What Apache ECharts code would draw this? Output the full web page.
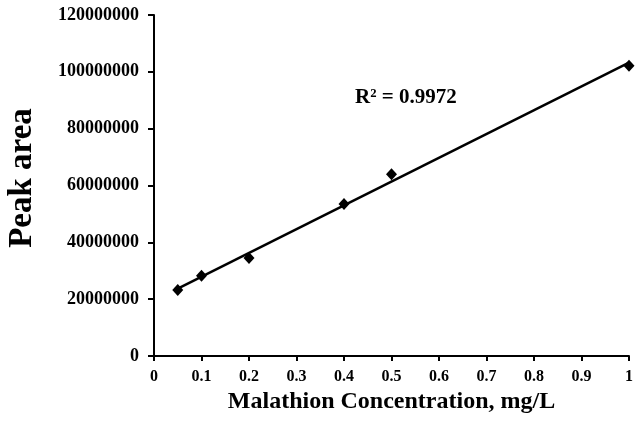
<!DOCTYPE html>
<html><head><meta charset="utf-8">
<script src="https://cdn.jsdelivr.net/npm/echarts@6/dist/echarts.min.js"></script>
<style>html,body{margin:0;padding:0;background:#fff}#c{width:637px;height:427px}</style>
</head><body><div id="c"></div>
<script>
const concentrations = [0.05, 0.1, 0.2, 0.4, 0.5, 1.0];
const peakAreas = [23200000, 28200000, 34500000, 53500000, 64000000, 102100000];
const r2Label = 'R² = 0.9972';
const xTitle = 'Malathion Concentration, mg/L';
const yTitle = 'Peak area';

// least-squares trend line from the data
const n = concentrations.length;
const mx = concentrations.reduce((a,b)=>a+b,0)/n;
const my = peakAreas.reduce((a,b)=>a+b,0)/n;
let sxx=0, sxy=0;
for (let i=0;i<n;i++){ sxx+=(concentrations[i]-mx)**2; sxy+=(concentrations[i]-mx)*(peakAreas[i]-my); }
const slope = sxy/sxx, intercept = my - slope*mx;
const xMin = Math.min(...concentrations), xMax = Math.max(...concentrations);
const trend = [[xMin, intercept+slope*xMin],[xMax, intercept+slope*xMax]];

const font = 'Liberation Serif, Times New Roman, serif';
const chart = echarts.init(document.getElementById('c'));
chart.setOption({
  animation:false,
  grid:{left:154,right:8,top:15,bottom:71,containLabel:false},
  xAxis:{type:'value',min:0,max:1,interval:0.1,
    name:xTitle,nameLocation:'middle',nameGap:32,
    nameTextStyle:{fontFamily:font,fontWeight:'bold',fontSize:24,color:'#000'},
    axisLine:{lineStyle:{color:'#000',width:2}},
    axisTick:{show:true,inside:false,length:5,lineStyle:{color:'#000',width:2}},
    axisLabel:{fontFamily:font,fontWeight:'bold',fontSize:16,color:'#000',margin:13,
      formatter:v=>String(Math.round(v*10)/10)},
    splitLine:{show:false}},
  yAxis:{type:'value',min:0,max:120000000,interval:20000000,
    axisLine:{show:true,lineStyle:{color:'#000',width:2}},
    axisTick:{show:true,inside:false,length:6,lineStyle:{color:'#000',width:2}},
    axisLabel:{fontFamily:font,fontWeight:'bold',fontSize:18,color:'#000',margin:15,
      formatter:v=>String(v)},
    splitLine:{show:false}},
  series:[
    {type:'line',data:trend,symbol:'none',lineStyle:{color:'#000',width:2.5},z:2},
    {type:'scatter',data:concentrations.map((x,i)=>[x,peakAreas[i]]),
      symbol:'diamond',symbolSize:[11,12],itemStyle:{color:'#000',opacity:1},z:3}
  ],
  graphic:[
    {type:'text',left:355,top:87,style:{text:r2Label,font:'bold 21px '+font,fill:'#000'}},
    {type:'text',x:22,y:178,rotation:Math.PI/2,
      style:{text:yTitle,font:'bold 33px '+font,fill:'#000',align:'center',verticalAlign:'middle'}}
  ]
});
</script></body></html>
